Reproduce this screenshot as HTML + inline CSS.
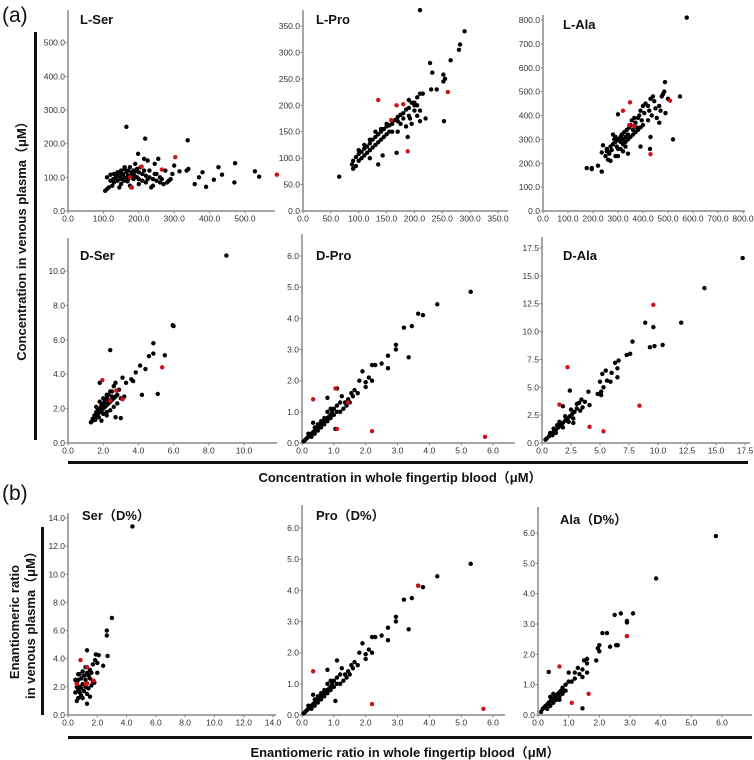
<!DOCTYPE html>
<html><head><meta charset="utf-8"><style>
body{margin:0;background:#fff;}
svg{display:block;font-family:"Liberation Sans","Noto Sans CJK JP",sans-serif;}
.tk{font-size:8.5px;fill:#333;}
.ttl{font-size:13px;font-weight:bold;fill:#111;}
.big{font-size:13px;font-weight:bold;fill:#111;}
</style></head><body>
<svg id="c" width="754" height="760" viewBox="0 0 754 760">
<text x="2" y="22" font-size="21" fill="#111">(a)</text>
<text x="2" y="500" font-size="21" fill="#111">(b)</text>
<rect x="34" y="32" width="3" height="408" fill="#111"/>
<rect x="68" y="461" width="680" height="3" fill="#111"/>
<rect x="41" y="527" width="3" height="188" fill="#111"/>
<rect x="68" y="736" width="684" height="3" fill="#111"/>
<text class="big" transform="translate(26,238) rotate(-90)" text-anchor="middle">Concentration in venous plasma（μM）</text>
<text class="big" x="400" y="482" text-anchor="middle">Concentration in whole fingertip blood（μM）</text>
<text class="big" transform="translate(19,622) rotate(-90)" text-anchor="middle">Enantiomeric ratio</text>
<text class="big" transform="translate(35,622) rotate(-90)" text-anchor="middle">in venous plasma（μM）</text>
<text class="big" x="405" y="757" text-anchor="middle">Enantiomeric ratio in whole fingertip blood（μM）</text>
</svg>
<script>
const lserBlack=[[165,250],[218,215],[338,210],[198,170],[255,155],[215,155],[225,150],[245,140],[300,135],[190,140],[175,130],[160,125],[150,120],[140,115],[130,110],[120,108],[110,100],[105,60],[110,65],[115,70],[125,75],[130,85],[140,90],[150,95],[160,100],[170,105],[180,110],[185,120],[195,125],[205,130],[210,110],[220,105],[230,100],[240,95],[250,90],[260,85],[270,80],[280,85],[290,95],[295,110],[175,75],[180,70],[200,80],[235,70],[240,75],[150,80],[145,70],[135,100],[155,110],[165,115],[170,95],[185,95],[195,100],[200,115],[210,90],[220,85],[230,120],[250,110],[260,100],[275,120],[315,118],[335,120],[340,125],[358,80],[370,100],[380,115],[390,72],[412,93],[425,130],[435,108],[470,85],[472,142],[528,118],[540,102],[120,90],[128,95],[138,105],[148,100],[158,90],[168,88],[178,100],[188,105],[145,112],[160,130],[170,120],[180,115],[190,118],[200,95],[215,120],[225,95],[245,110],[265,95],[285,90]];
const lserRed=[[175,100],[178,70],[208,132],[265,123],[303,160],[590,108]];
const lproBlack=[[65,65],[210,380],[290,340],[282,315],[280,305],[265,285],[228,280],[232,262],[252,258],[255,250],[230,230],[240,230],[205,215],[210,222],[215,222],[200,205],[195,205],[190,195],[185,192],[180,185],[175,182],[170,178],[165,172],[160,165],[155,162],[150,160],[145,155],[140,150],[135,145],[130,140],[125,135],[120,128],[115,122],[110,118],[105,112],[100,108],[95,102],[90,95],[88,88],[90,80],[95,85],[100,95],[105,100],[110,105],[115,110],[120,115],[125,120],[130,125],[135,130],[140,135],[145,140],[150,145],[155,150],[160,150],[100,115],[110,125],[120,135],[130,150],[140,155],[150,165],[160,170],[170,170],[180,175],[190,180],[200,190],[210,190],[220,175],[210,170],[205,180],[195,165],[185,160],[170,150],[175,165],[190,210],[200,200],[188,140],[168,110],[135,88],[143,105],[120,100],[253,170],[252,245],[192,175],[205,200]];
const lproRed=[[135,210],[168,200],[180,202],[158,172],[188,113],[260,225]];
const lalaBlack=[[575,810],[175,180],[195,175],[195,180],[220,190],[235,165],[235,245],[240,275],[250,230],[255,260],[255,250],[260,215],[265,240],[270,210],[275,255],[280,280],[285,300],[290,290],[295,270],[300,260],[300,405],[305,300],[310,310],[315,320],[320,300],[325,330],[330,310],[335,340],[340,320],[345,350],[350,360],[355,380],[360,340],[365,390],[370,370],[375,350],[380,390],[385,400],[390,420],[395,380],[400,440],[405,410],[410,450],[420,440],[425,420],[430,470],[435,400],[440,480],[445,460],[450,430],[455,390],[465,440],[470,420],[475,480],[480,490],[485,500],[488,540],[490,410],[500,470],[520,300],[548,480],[465,370],[430,310],[428,260],[390,270],[280,320],[290,310],[300,300],[310,290],[320,280],[330,290],[340,300],[350,310],[360,320],[370,330],[380,340],[390,350],[260,250],[270,270],[310,260],[320,250],[330,270],[340,240],[300,230],[290,230],[420,380],[400,360]];
const lalaRed=[[320,420],[348,455],[345,360],[365,355],[430,238],[508,462]];
const dserBlack=[[9.0,10.9],[6.0,6.8],[5.95,6.85],[5.5,5.1],[4.85,5.8],[4.85,5.2],[4.6,5.05],[4.4,4.3],[4.1,4.5],[3.85,4.1],[3.6,3.7],[3.7,3.6],[3.3,3.5],[3.1,3.8],[4.2,2.8],[5.1,2.85],[2.4,5.4],[1.8,3.5],[2.7,3.5],[2.6,3.3],[2.5,3.0],[2.3,2.8],[2.2,2.6],[2.1,2.5],[2.0,2.3],[1.9,2.2],[1.8,2.0],[1.7,1.9],[1.6,1.8],[1.5,1.6],[1.4,1.4],[1.3,1.2],[1.4,1.3],[1.5,1.5],[1.6,1.6],[1.7,1.7],[1.8,1.8],[1.9,1.9],[2.0,2.0],[2.1,2.1],[2.2,2.2],[2.3,2.3],[2.4,2.4],[2.5,2.5],[2.6,2.6],[2.7,2.7],[2.8,2.8],[1.8,2.4],[2.0,2.6],[2.2,2.8],[2.4,3.0],[1.6,2.1],[1.9,1.3],[2.2,1.6],[2.7,1.5],[3.0,1.45],[3.2,2.7],[3.0,2.6],[2.8,2.3],[2.6,2.1],[2.4,1.9],[2.2,1.8],[2.0,1.7],[1.75,1.5],[1.55,1.35],[2.9,3.1],[2.5,2.7],[2.3,2.5],[2.1,2.3],[1.9,2.1],[1.7,2.0]];
const dserRed=[[1.95,3.65],[2.75,3.05],[2.4,2.45],[3.1,2.55],[5.35,4.4]];
const dproBlack=[[5.3,4.85],[4.25,4.45],[3.8,4.1],[3.65,4.15],[3.45,3.75],[3.2,3.7],[2.95,3.15],[2.95,3.0],[3.35,2.75],[2.7,2.8],[2.7,2.4],[2.5,2.55],[2.3,2.5],[2.2,2.5],[2.2,2.0],[2.1,2.1],[2.0,1.8],[2.0,1.95],[1.9,2.3],[1.8,2.0],[1.75,1.6],[1.65,1.7],[1.55,1.6],[1.45,1.4],[1.35,1.3],[1.25,1.5],[1.2,1.3],[1.1,1.2],[1.0,1.1],[0.95,1.0],[0.9,0.9],[0.85,0.85],[0.8,0.8],[0.75,0.75],[0.7,0.7],[0.65,0.65],[0.6,0.6],[0.55,0.55],[0.5,0.5],[0.45,0.45],[0.4,0.4],[0.35,0.35],[0.3,0.3],[0.25,0.25],[0.2,0.2],[0.15,0.15],[0.1,0.1],[0.05,0.05],[0.3,0.2],[0.4,0.3],[0.5,0.4],[0.6,0.5],[0.7,0.6],[0.8,0.7],[0.9,0.8],[1.0,0.9],[0.6,0.7],[0.7,0.8],[0.8,1.0],[0.5,0.6],[0.35,0.65],[1.05,0.45],[1.1,1.75],[0.8,1.45],[1.3,1.1],[1.5,1.3],[0.4,0.5],[0.2,0.3],[0.9,1.1],[1.2,1.0],[1.4,1.2],[1.6,1.5],[1.1,1.0]];
const dproRed=[[0.35,1.4],[1.05,1.75],[1.1,0.45],[1.45,1.3],[2.2,0.38],[5.75,0.2]];
const dalaBlack=[[17.3,16.6],[14.0,13.9],[12.0,10.8],[10.4,8.8],[9.7,8.7],[9.3,8.6],[9.6,10.4],[8.9,10.8],[7.8,9.1],[7.6,8.0],[7.3,7.9],[6.6,7.4],[6.3,7.2],[6.5,6.7],[6.5,5.9],[6.0,6.3],[5.9,5.5],[5.6,5.6],[5.5,6.5],[5.2,6.2],[5.3,5.0],[5.0,5.5],[5.1,4.6],[4.8,4.4],[5.1,4.3],[4.0,4.6],[4.1,3.4],[3.7,3.7],[3.4,3.9],[3.2,3.6],[3.0,3.1],[2.8,2.8],[2.6,2.6],[2.4,2.4],[2.2,2.2],[2.0,2.0],[1.8,1.8],[1.6,1.6],[1.4,1.4],[1.2,1.2],[1.0,1.0],[0.8,0.8],[0.6,0.6],[0.4,0.4],[0.3,0.3],[1.0,1.3],[1.5,1.9],[2.0,2.4],[2.5,3.0],[3.0,3.5],[1.2,0.9],[1.8,1.4],[2.3,1.9],[2.7,2.2],[3.3,2.9],[2.4,4.7],[1.8,3.3],[2.7,1.8],[3.5,3.2],[0.7,0.9],[0.9,0.7],[1.3,1.6],[1.7,1.5]];
const dalaRed=[[2.2,6.8],[1.5,3.45],[4.1,1.45],[5.3,1.05],[8.4,3.35],[9.6,12.4]];
const bserBlack=[[4.4,13.4],[3.0,6.9],[2.65,6.0],[2.65,5.65],[2.7,4.2],[2.4,3.5],[1.3,4.6],[1.9,4.3],[2.1,4.25],[1.85,3.9],[2.0,3.7],[1.7,3.6],[1.5,3.2],[1.3,3.0],[1.1,2.8],[0.9,2.6],[0.7,2.5],[0.6,2.3],[0.6,2.0],[0.7,1.8],[0.8,1.6],[0.9,1.4],[1.0,1.2],[0.6,1.0],[0.7,1.2],[1.3,0.8],[0.5,1.6],[0.5,2.5],[1.2,2.0],[1.4,1.9],[1.6,2.1],[1.8,2.3],[1.5,2.6],[1.0,2.2],[0.8,2.0],[1.1,1.7],[1.2,2.5],[1.4,2.8],[1.6,3.0],[1.0,3.1],[0.8,2.9],[0.9,1.9],[1.3,1.5],[1.5,1.3],[0.7,2.9],[2.0,3.0],[1.7,2.4],[1.2,3.4]];
const bserRed=[[0.85,3.9],[1.3,3.4],[0.6,2.2],[1.2,2.2],[1.75,2.45],[1.3,2.25]];
const bproBlack=dproBlack.slice();
const bproRed=[[0.35,1.4],[2.2,0.35],[3.65,4.15],[5.7,0.2]];
const balaBlack=[[5.8,5.9],[3.85,4.5],[3.1,3.35],[2.9,3.1],[2.9,3.05],[2.7,3.35],[2.5,3.3],[2.55,2.3],[2.6,2.3],[2.35,2.25],[2.25,2.7],[2.1,2.7],[2.0,2.3],[1.95,2.2],[2.0,2.1],[1.9,1.8],[1.6,1.85],[1.6,1.7],[1.5,1.8],[1.45,1.5],[1.6,1.4],[1.45,1.25],[1.3,1.55],[1.2,1.4],[1.0,1.4],[1.35,1.35],[1.2,1.2],[1.0,1.1],[0.9,1.0],[0.8,0.9],[0.75,0.8],[0.7,0.75],[0.65,0.7],[0.6,0.65],[0.55,0.6],[0.5,0.55],[0.45,0.5],[0.4,0.45],[0.35,0.4],[0.3,0.35],[0.25,0.3],[0.2,0.25],[0.15,0.2],[0.1,0.1],[0.3,0.2],[0.4,0.3],[0.5,0.4],[0.6,0.5],[0.7,0.6],[0.8,0.7],[0.9,0.8],[0.5,0.7],[0.4,0.6],[0.35,1.42],[1.45,0.22],[1.1,1.1],[0.85,0.8],[0.7,0.5]];
const balaRed=[[0.7,1.6],[1.1,0.4],[1.65,0.7],[2.9,2.6]];

const NS='http://www.w3.org/2000/svg';
const svg=document.getElementById('c');
function mk(t,a){const e=document.createElementNS(NS,t);for(const k in a)e.setAttribute(k,a[k]);svg.appendChild(e);return e;}
const panels=[
 {id:'l-ser',title:'L-Ser',tx:80,ty:24,ox:68,oy:211,xm:500,xp:245,ym:500,yp:42.7,xs:100,ys:100,top:10,right:275,b:lserBlack,r:lserRed},
 {id:'l-pro',title:'L-Pro',tx:316,ty:24,ox:303,oy:211,xm:350,xp:498,ym:350,yp:26,xs:50,ys:50,top:10,right:508,b:lproBlack,r:lproRed},
 {id:'l-ala',title:'L-Ala',tx:563,ty:29,ox:543,oy:211,xm:800,xp:743,ym:800,yp:20,xs:100,ys:100,top:15,right:745,b:lalaBlack,r:lalaRed},
 {id:'d-ser',title:'D-Ser',tx:80,ty:260,ox:68,oy:443,xm:10,xp:244,ym:10,yp:271,xs:2,ys:2,top:238,right:277,b:dserBlack,r:dserRed},
 {id:'d-pro',title:'D-Pro',tx:316,ty:260,ox:302,oy:443,xm:6,xp:493,ym:6,yp:256,xs:1,ys:1,top:234,right:515,b:dproBlack,r:dproRed},
 {id:'d-ala',title:'D-Ala',tx:563,ty:260,ox:542,oy:443,xm:17.5,xp:745,ym:17.5,yp:248,xs:2.5,ys:2.5,top:237,right:750,b:dalaBlack,r:dalaRed},
 {id:'b-ser',title:'Ser（D%）',tx:82,ty:520,ox:68,oy:715,xm:14,xp:273,ym:14,yp:518,xs:2,ys:2,top:513,right:276,b:bserBlack,r:bserRed},
 {id:'b-pro',title:'Pro（D%）',tx:316,ty:520,ox:302,oy:715,xm:6,xp:493,ym:6,yp:528,xs:1,ys:1,top:505,right:505,b:bproBlack,r:bproRed},
 {id:'b-ala',title:'Ala（D%）',tx:560,ty:524,ox:538,oy:715,xm:6,xp:722,ym:6,yp:533,xs:1,ys:1,top:507,right:752,b:balaBlack,r:balaRed}
];
panels.forEach(p=>{
 const X=v=>p.ox+(p.xp-p.ox)*v/p.xm, Y=v=>p.oy-(p.oy-p.yp)*v/p.ym;
 const ya=mk('line',{x1:p.ox,y1:p.top,x2:p.ox,y2:p.oy,stroke:'#888','stroke-width':1.5});
 
 
 const xa=mk('line',{x1:p.ox,y1:p.oy,x2:p.right,y2:p.oy,stroke:'#888','stroke-width':1.5});
 
 
 const n=Math.round(p.xm/p.xs);
 for(let i=0;i<=n;i++){const v=i*p.xs;
  mk('line',{x1:X(v),y1:p.oy,x2:X(v),y2:p.oy+2.5,stroke:'#888'});
  const t=mk('text',{x:X(v),y:p.oy+10.5,'text-anchor':'middle',class:'tk'});t.textContent=v.toFixed(1);
  
  }
 const m=Math.round(p.ym/p.ys);
 for(let i=0;i<=m;i++){const v=i*p.ys;
  mk('line',{x1:p.ox-2.5,y1:Y(v),x2:p.ox,y2:Y(v),stroke:'#888'});
  const t=mk('text',{x:p.ox-3,y:Y(v)+3,'text-anchor':'end',class:'tk'});t.textContent=v.toFixed(1);
  
  }
 const tt=mk('text',{x:p.tx,y:p.ty,class:'ttl'});tt.textContent=p.title;
 
 
 p.b.forEach(d=>{const c=mk('circle',{cx:X(d[0]),cy:Y(d[1]),r:2.2,fill:'#000'});
  
  });
 p.r.forEach(d=>{const c=mk('circle',{cx:X(d[0]),cy:Y(d[1]),r:2.2,fill:'#d0101a'});
  
  });
});
</script>
</body></html>
